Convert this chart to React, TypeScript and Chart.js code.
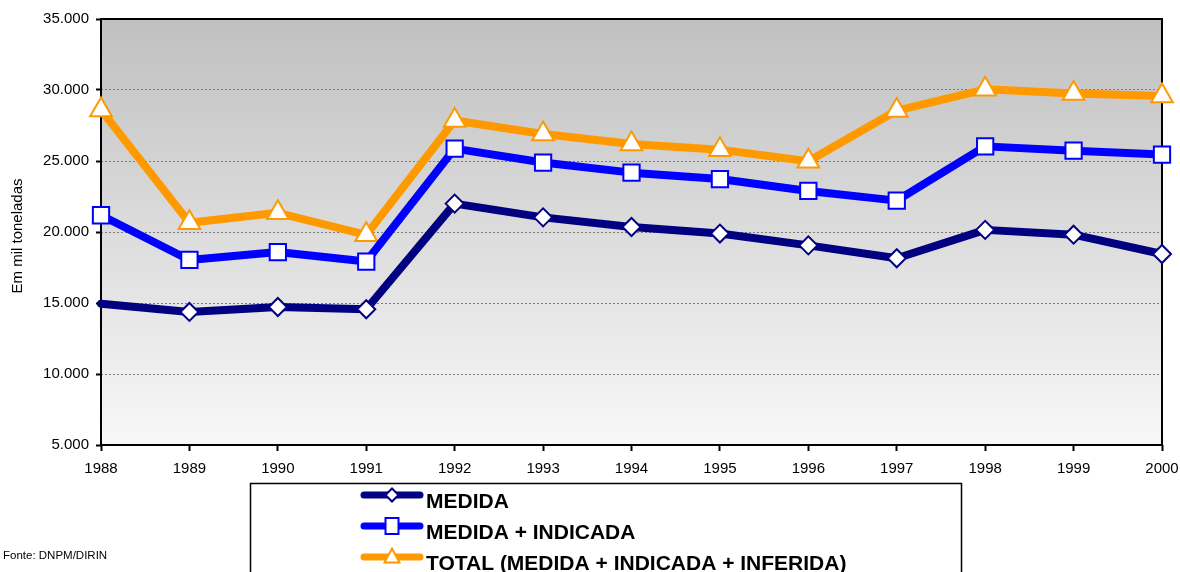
import React, { useEffect, useRef } from 'react';
import { Chart, registerables } from 'chart.js';

Chart.register(...registerables);

// Reservas por ano, em mil toneladas
const years = ['1988', '1989', '1990', '1991', '1992', '1993', '1994', '1995', '1996', '1997', '1998', '1999', '2000'];
const medida = [14950, 14370, 14720, 14560, 22000, 21030, 20350, 19890, 19060, 18150, 20150, 19810, 18450];
const medidaIndicada = [21180, 18030, 18590, 17920, 25870, 24890, 24180, 23730, 22890, 22210, 26030, 25730, 25450];
const total = [28600, 20650, 21350, 19800, 27850, 26900, 26200, 25800, 24980, 28550, 30050, 29750, 29580];

const seriesNames = ['MEDIDA', 'MEDIDA + INDICADA', 'TOTAL (MEDIDA + INDICADA + INFERIDA)'];
const yMin = 5000;
const yMax = 35000;
const yStep = 5000;
const axisTitle = 'Em mil toneladas';
const sourceNote = 'Fonte: DNPM/DIRIN';

const FONT = '"Liberation Sans", Arial, Helvetica, sans-serif';

// 5000 -> "5.000"
function fmtThousands(v: number): string {
  return String(Math.round(v)).replace(/\B(?=(\d{3})+(?!\d))/g, '.');
}

function drawLegendMarker(ctx: CanvasRenderingContext2D, style: string, x: number, y: number, color: string) {
  ctx.save();
  ctx.fillStyle = '#ffffff';
  ctx.strokeStyle = color;
  ctx.lineWidth = 2;
  ctx.beginPath();
  if (style === 'rectRot') {
    ctx.moveTo(x, y - 6.5);
    ctx.lineTo(x + 6.5, y);
    ctx.lineTo(x, y + 6.5);
    ctx.lineTo(x - 6.5, y);
    ctx.closePath();
  } else if (style === 'rect') {
    ctx.rect(x - 6.5, y - 8, 13, 16);
  } else {
    ctx.moveTo(x, y - 8.5);
    ctx.lineTo(x + 7.5, y + 5.5);
    ctx.lineTo(x - 7.5, y + 5.5);
    ctx.closePath();
  }
  ctx.fill();
  ctx.stroke();
  ctx.restore();
}

const decorPlugin = {
  id: 'decor',
  beforeDraw(chart: any) {
    const { ctx, chartArea: a } = chart;
    const g = ctx.createLinearGradient(0, a.top, 0, a.bottom);
    g.addColorStop(0, '#c0c0c0');
    g.addColorStop(1, '#f8f8f8');
    ctx.save();
    ctx.fillStyle = g;
    ctx.fillRect(a.left, a.top, a.right - a.left, a.bottom - a.top);
    ctx.restore();
  },
  beforeDatasetsDraw(chart: any) {
    const { ctx, chartArea: a } = chart;
    ctx.save();
    ctx.strokeStyle = '#000000';
    ctx.lineWidth = 2;
    ctx.strokeRect(a.left, a.top, a.right - a.left, a.bottom - a.top);
    ctx.restore();
  },
  afterDraw(chart: any) {
    const { ctx, chartArea: a } = chart;
    ctx.save();
    ctx.fillStyle = '#000000';

    // vertical axis title
    ctx.save();
    ctx.translate(22, (a.top + a.bottom) / 2 + 4);
    ctx.rotate(-Math.PI / 2);
    ctx.font = `15px ${FONT}`;
    ctx.textAlign = 'center';
    ctx.textBaseline = 'alphabetic';
    ctx.fillText(axisTitle, 0, 0);
    ctx.restore();

    // source note
    ctx.font = `11.5px ${FONT}`;
    ctx.textAlign = 'left';
    ctx.textBaseline = 'alphabetic';
    ctx.fillText(sourceNote, 3, 559);

    // legend box
    const boxLeft = 250.5;
    const boxTop = 483.5;
    const boxRight = 961.5;
    ctx.strokeStyle = '#000000';
    ctx.lineWidth = 1.5;
    ctx.strokeRect(boxLeft, boxTop, boxRight - boxLeft, 200);

    chart.data.datasets.forEach((ds: any, i: number) => {
      const rowY = boxTop + 11.5 + i * 31;
      ctx.save();
      ctx.strokeStyle = ds.borderColor;
      ctx.lineWidth = 7;
      ctx.lineCap = 'round';
      ctx.beginPath();
      ctx.moveTo(364, rowY);
      ctx.lineTo(420, rowY);
      ctx.stroke();
      ctx.restore();
      drawLegendMarker(ctx, ds.pointStyle, 392, rowY, ds.borderColor);
      ctx.fillStyle = '#000000';
      ctx.font = `bold 21px ${FONT}`;
      ctx.textAlign = 'left';
      ctx.textBaseline = 'alphabetic';
      ctx.fillText(ds.label, 426, rowY + 13);
    });
    ctx.restore();
  },
};

export default function App() {
  const canvasRef = useRef<HTMLCanvasElement>(null);

  useEffect(() => {
    const canvas = canvasRef.current;
    if (!canvas) return;

    const lineCommon = {
      borderWidth: 8,
      borderJoinStyle: 'round' as const,
      borderCapStyle: 'round' as const,
      pointBackgroundColor: '#ffffff',
      pointBorderWidth: 2,
      pointHoverRadius: 0,
      tension: 0,
      clip: false as const,
      fill: false,
    };

    const chart = new Chart(canvas, {
      type: 'line',
      data: {
        labels: years,
        datasets: [
          {
            ...lineCommon,
            label: seriesNames[0],
            data: medida,
            borderColor: '#000080',
            pointBorderColor: '#000080',
            pointStyle: 'rectRot',
            pointRadius: medida.map((_, i) => (i === 0 ? 0 : 9)),
          },
          {
            ...lineCommon,
            label: seriesNames[1],
            data: medidaIndicada,
            borderColor: '#0000ff',
            pointBorderColor: '#0000ff',
            pointStyle: 'rect',
            pointRadius: 11.5,
          },
          {
            ...lineCommon,
            label: seriesNames[2],
            data: total,
            borderColor: '#ff9900',
            pointBorderColor: '#ff9900',
            pointStyle: 'triangle',
            pointRadius: 12.5,
          },
        ],
      },
      options: {
        responsive: false,
        animation: false,
        devicePixelRatio: 1,
        layout: { padding: { top: 19, right: 18, left: 0, bottom: 0 } },
        plugins: {
          legend: { display: false },
          tooltip: { enabled: false },
        },
        events: [],
        scales: {
          x: {
            type: 'category',
            offset: false,
            border: { display: false },
            grid: {
              drawOnChartArea: false,
              drawTicks: true,
              tickLength: 6,
              tickColor: '#000000',
              tickWidth: 2,
            },
            ticks: {
              color: '#000000',
              font: { family: FONT, size: 15 },
              padding: 9,
              maxRotation: 0,
              minRotation: 0,
              autoSkip: false,
            },
            afterFit: (scale: any) => {
              scale.height = 127;
              scale.paddingLeft = 0;
              scale.paddingRight = 0;
            },
          },
          y: {
            min: yMin,
            max: yMax,
            border: { display: false, dash: [2, 2] },
            grid: {
              color: '#7a7a7a',
              lineWidth: 1,
              drawTicks: true,
              tickLength: 5,
              tickColor: '#000000',
              tickWidth: 2,
              tickBorderDash: [],
            },
            ticks: {
              stepSize: yStep,
              color: '#000000',
              font: { family: FONT, size: 15 },
              padding: 7,
              callback: (v: any) => fmtThousands(Number(v)),
            },
            afterFit: (scale: any) => {
              scale.width = 101;
            },
          },
        },
      },
      plugins: [decorPlugin],
    });

    return () => chart.destroy();
  }, []);

  return (
    <div style={{ position: 'absolute', left: 0, top: 0, width: 1180, height: 572, background: '#ffffff', overflow: 'hidden' }}>
      <canvas ref={canvasRef} width={1180} height={572} style={{ display: 'block', width: 1180, height: 572 }} />
    </div>
  );
}
